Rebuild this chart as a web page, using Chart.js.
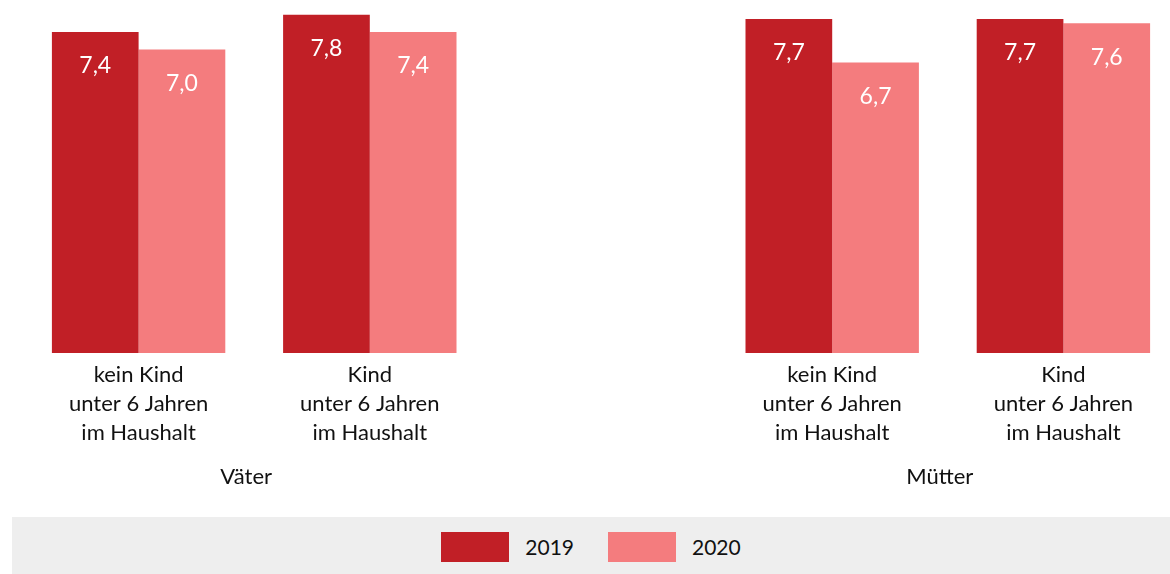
<!DOCTYPE html>
<html lang="de">
<head>
<meta charset="utf-8">
<title>Väter und Mütter 2019 / 2020</title>
<script src="https://cdn.jsdelivr.net/npm/chart.js@4/dist/chart.umd.min.js"></script>
<style>
  body { margin: 0; width: 1170px; height: 574px; overflow: hidden; background: #fff; font-family: Lato, sans-serif; }
  #wrap { position: absolute; left: 0; top: 0; width: 1180px; height: 517px; }
  #legend {
    position: absolute; left: 12px; top: 517px; width: 1158px; height: 57px;
    background: #eeeeee; display: flex; justify-content: center; align-items: center;
  }
  .item { display: flex; align-items: center; margin: 2px 17px 0; }
  .box { width: 68px; height: 30px; margin-right: 16px; }
  .txt { font-size: 21px; color: #111; }
</style>
</head>
<body>
<div id="wrap"><canvas id="barChart" width="1180" height="517"></canvas></div>
<div id="legend"></div>
<script>
// Data
const categories = [
  ['kein Kind', 'unter 6 Jahren', 'im Haushalt'],
  ['Kind', 'unter 6 Jahren', 'im Haushalt'],
  '',
  ['kein Kind', 'unter 6 Jahren', 'im Haushalt'],
  ['Kind', 'unter 6 Jahren', 'im Haushalt'],
];
const groups = ['Väter', 'Mütter'];
const years = ['2019', '2020'];
const values2019 = [7.4, 7.8, null, 7.7, 7.7];
const values2020 = [7.0, 7.4, null, 6.7, 7.6];

const colors = ['#c11f26', '#f47c7e'];

// value labels inside the bars
const valueLabels = {
  id: 'valueLabels',
  afterDatasetsDraw(chart) {
    const ctx = chart.ctx;
    ctx.save();
    ctx.font = '23px Lato';
    ctx.fillStyle = '#fff';
    ctx.textAlign = 'center';
    ctx.textBaseline = 'middle';
    chart.data.datasets.forEach((ds, i) => {
      chart.getDatasetMeta(i).data.forEach((bar, j) => {
        const v = ds.data[j];
        if (v == null) return;
        ctx.fillText(v.toFixed(1).replace('.', ','), bar.x, bar.y + 34);
      });
    });
    ctx.restore();
  },
};

// group labels under the category pairs
const groupLabels = {
  id: 'groupLabels',
  afterDraw(chart) {
    const x = chart.scales.x;
    const ctx = chart.ctx;
    ctx.save();
    ctx.font = '22px Lato';
    ctx.fillStyle = '#111';
    ctx.textAlign = 'center';
    ctx.textBaseline = 'middle';
    groups.forEach((g, i) => {
      const a = x.getPixelForValue(i * 3);
      const b = x.getPixelForValue(i * 3 + 1);
      ctx.fillText(g, (a + b) / 2 - 8, 477);
    });
    ctx.restore();
  },
};

const chart = new Chart(document.getElementById('barChart').getContext('2d'), {
  type: 'bar',
  data: {
    labels: categories,
    datasets: [
      { label: years[0], data: values2019, backgroundColor: colors[0] },
      { label: years[1], data: values2020, backgroundColor: colors[1] },
    ],
  },
  options: {
    responsive: false,
    animation: false,
    layout: { padding: { left: 23, right: 1, top: 6, bottom: 0 } },
    datasets: { bar: { categoryPercentage: 0.75, barPercentage: 1.0 } },
    plugins: {
      legend: { display: false },
      tooltip: { enabled: false },
    },
    scales: {
      x: {
        grid: { display: false, drawTicks: false },
        border: { display: false },
        ticks: {
          padding: 7,
          color: '#111',
          font: { family: 'Lato', size: 22, lineHeight: 1.32 },
          maxRotation: 0,
          autoSkip: false,
        },
        afterFit(scale) { scale.height = 164; },
      },
      y: {
        display: false,
        min: 0,
        max: 8,
      },
    },
  },
  plugins: [valueLabels, groupLabels],
});

// legend
const legend = document.getElementById('legend');
chart.data.datasets.forEach((ds) => {
  const item = document.createElement('div');
  item.className = 'item';
  item.innerHTML = '<div class="box" style="background:' + ds.backgroundColor + '"></div><span class="txt">' + ds.label + '</span>';
  legend.appendChild(item);
});
</script>
</body>
</html>
